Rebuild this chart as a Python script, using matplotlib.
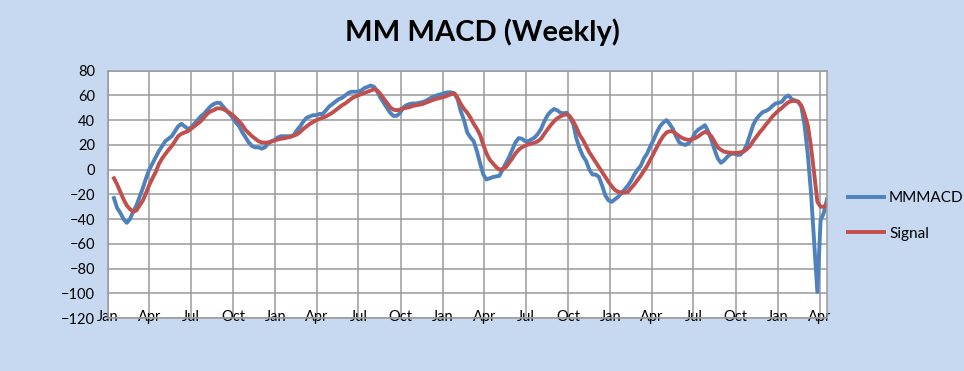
import pandas as pd
import matplotlib
matplotlib.use('Agg')
import matplotlib.pyplot as plt
from matplotlib.dates import MonthLocator, DateFormatter

# weekly closes (Fridays) from 2016-01-15 to 2020-04-17
start_date = '2016-01-15'

mmmacd = [
    -23, -31, -35, -40, -43, -40, -34, -29, -22, -15,
    -7, 0, 5, 10, 15, 19, 23, 25, 27, 31,
    35, 37, 35, 33, 34, 37, 40, 43, 45, 48,
    51, 53, 54, 54, 51, 48, 45, 42, 38, 35,
    30, 26, 22, 19, 18, 18, 17, 18, 21, 23,
    24, 26, 27, 27, 27, 27, 28, 32, 35, 39,
    42, 43, 44, 44, 45, 45, 48, 51, 53, 55,
    57, 58, 60, 62, 63, 63, 63, 64, 66, 67,
    68, 67, 63, 58, 54, 50, 46, 43.5, 43.5, 45.5,
    50, 52, 53, 53.5, 53.5, 54, 54.5, 55.5, 57, 58.5,
    59.5, 60.5, 61, 62, 62.5, 62.5, 61.5, 57, 47, 40,
    30, 26, 23, 15, 5, -4, -8, -7, -6, -5.5,
    -5, 0, 5, 10, 16, 22, 25.5, 25, 23, 23,
    24.5, 26, 29, 33, 39, 44, 47, 49, 48, 46,
    45.5, 46, 42, 37, 25, 17, 11, 7, 0, -4,
    -4, -6, -13, -21, -25, -26, -24, -22, -19, -16,
    -13, -9, -4, 0, 3, 9, 13, 19, 24, 30,
    35, 38, 40, 37, 33, 27, 22, 20.5, 20, 21.5,
    25, 30, 32.5, 34, 36, 31, 24, 16, 9, 5.5,
    7.5, 10.5, 12.5, 13, 12, 12, 15, 20, 28, 36,
    41, 44, 46.5, 47.5, 49, 51.5, 53.5, 54, 55, 58.5,
    60, 57, 56, 55, 51, 36, 13, -18, -58, -99,
    -41, -35, -24,
]

signal = [
    -7, -12, -18, -24, -29, -32, -34, -33, -29, -25,
    -19, -12.5, -7, -2, 4.5, 9, 12.6, 16, 19, 23,
    27, 29, 30, 31, 33, 35, 37, 39, 42, 45,
    47, 48, 49.5, 49.5, 49, 47.5, 46, 44, 41.5, 39,
    36, 32, 29.5, 27, 25, 23, 22, 21.8, 22, 22.6,
    23.5, 24.4, 25, 25.3, 26, 26.5, 27.5, 28.5, 30.5, 33,
    35, 37, 38.5, 40, 41, 42, 43, 44.5, 46, 48,
    50, 52, 53.5, 55.5, 57.5, 59, 60, 61, 62, 63,
    64, 65, 64, 61, 57.5, 54, 50.5, 48.5, 48, 48.5,
    49.5, 50, 50.5, 51.5, 52, 52.5, 53, 54, 55, 56,
    57, 57.6, 58.3, 59, 60, 61, 61.7, 58, 53, 49,
    46, 42, 37, 33, 28, 20, 13, 8, 5, 2,
    0, 0.5, 2, 5.5, 9, 13, 16, 18, 19.4, 20.3,
    21, 21.8, 23, 25, 29, 32.5, 36, 39, 41.5, 43,
    44.3, 44.7, 43, 39, 34, 28, 24, 19, 14, 10,
    6, 2, -2, -6, -10, -13.5, -16.5, -18, -18.5, -18.5,
    -18, -15, -12, -8.5, -5, -1, 3, 8, 13, 18,
    23, 27, 30, 31, 31, 29, 27, 25.5, 24.5, 24,
    24.5, 25.5, 27, 29, 30.5, 29.5, 27, 22.5, 18, 16,
    14.5, 14, 13.7, 13.5, 13.5, 14, 14.5, 16.5, 19, 23,
    26.5, 30, 33, 36.5, 39.5, 43, 45.5, 48, 50, 52.5,
    54.5, 55.5, 55.5, 55, 52, 45, 36, 19, -3, -26,
    -30, -30, -28,
]

dates = pd.date_range(start_date, periods=len(mmmacd), freq='7D')

bg = '#C6D9F0'
grid_col = '#9A9A9A'
plt.rcParams['font.family'] = ['Lato', 'DejaVu Sans']

fig = plt.figure(figsize=(9.64, 3.71), dpi=100, facecolor=bg)
ax = fig.add_axes([107.5 / 964, 1 - 318 / 371, (827 - 107.5) / 964, (318 - 70.7) / 371])
ax.set_facecolor('white')

ax.plot(dates, mmmacd, color='#4F81BD', lw=2.8, label='MMMACD', solid_joinstyle='round')
ax.plot(dates, signal, color='#C0504D', lw=2.8, label='Signal', solid_joinstyle='round')

ax.set_xlim(pd.Timestamp('2016-01-01'), pd.Timestamp('2020-04-17'))
ax.set_ylim(-120, 80)
ax.set_yticks(range(-120, 81, 20))
ax.xaxis.set_major_locator(MonthLocator(bymonth=[1, 4, 7, 10]))
ax.xaxis.set_major_formatter(DateFormatter('%b'))

ax.grid(True, color=grid_col, lw=1.1)
ax.set_axisbelow(True)
for s in ax.spines.values():
    s.set_color(grid_col)
    s.set_linewidth(1.1)

ax.tick_params(axis='both', length=0, labelsize=10.5, colors='black')
ax.tick_params(axis='x', pad=-6)
ax.tick_params(axis='y', pad=9)

fig.text(0.5, 0.913, 'MM MACD (Weekly)', ha='center', va='center',
         fontsize=21, fontweight='bold')

fig.legend(loc='center left', bbox_to_anchor=(834 / 964, 1 - 216 / 371),
           frameon=False, fontsize=11, handlelength=2.4, handletextpad=0.3,
           labelspacing=1.4)

plt.savefig('out.png', dpi=100, facecolor=bg)
